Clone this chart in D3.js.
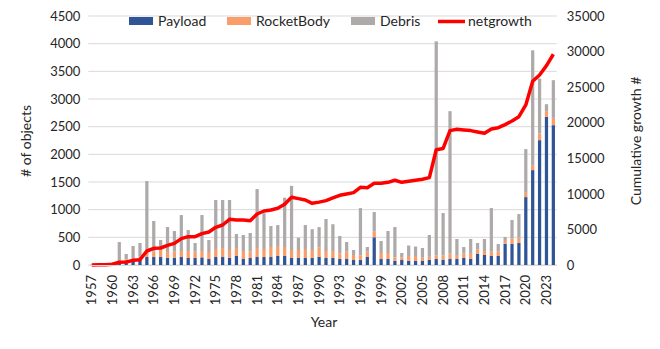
<!DOCTYPE html>
<html><head><meta charset="utf-8">
<script src="https://cdn.jsdelivr.net/npm/d3@7"></script>
<style>
html,body{margin:0;padding:0;background:#fff;}
svg text{font-family:Lato,"Open Sans",sans-serif;fill:#262626;}
</style></head>
<body><svg id="c" width="660" height="349"></svg>
<script>
const years = d3.range(1957, 2025);
const payload = [2,5,10,20,30,42,66,90,144,144,144,132,132,144,126,126,138,108,144,144,132,163,108,126,144,144,144,163,163,126,126,126,126,150,126,126,108,108,90,90,144,500,108,108,72,90,78,72,72,96,108,96,108,108,132,114,205,181,163,163,385,379,397,1227,1715,2256,2677,2527];
const rocketBody = [1,3,5,10,20,60,42,60,91,97,127,121,109,109,127,115,115,127,145,163,139,144,145,121,163,145,181,180,162,145,145,163,145,170,127,127,97,133,91,85,97,102,109,109,66,48,85,91,60,51,67,79,97,72,79,103,72,72,78,84,48,97,97,78,90,121,103,132];
const debris = [0,5,20,10,365,97,235,247,1282,554,180,433,373,650,379,156,650,216,885,867,903,253,289,331,1065,646,379,379,891,1159,223,433,376,365,578,484,319,174,90,854,84,355,216,397,548,79,189,171,175,395,3868,764,2575,290,114,253,120,217,788,132,73,337,427,789,2075,993,126,681];
const netgrowth = [0,20,50,100,380,420,656,750,1968,2343,2390,2765,3046,3703,3984,3984,4406,4640,5300,5624,6420,6327,6327,6233,7171,7593,7733,7968,8530,9514,9327,9139,8670,8835,9045,9420,9795,9983,10170,10920,10873,11483,11483,11623,11905,11623,11764,11905,12045,12280,16200,16380,18890,19080,18980,18890,18700,18515,19120,19305,19730,20245,20850,22500,25830,26715,28020,29620];
const seriesNames = ["Payload","RocketBody","Debris"];
const colors = {Payload:"#2f5597", RocketBody:"#f99d6b", Debris:"#aeaaaa"};
const leftTicks = d3.range(0, 4501, 500);
const rightTicks = d3.range(0, 35001, 5000);
const xTickYears = years.filter(y => (y - 1957) % 3 === 0);

const svg = d3.select("#c");
const L = 88.3, R = 556.8, T = 16, B = 265;
const x = d3.scaleBand().domain(years).range([L, R]).paddingInner(0.53).paddingOuter(0.265);
const y = d3.scaleLinear().domain([0, 4500]).range([B, T]);
const y2 = d3.scaleLinear().domain([0, 35000]).range([B, T]);

// gridlines
svg.append("g").selectAll("line").data(leftTicks).join("line")
  .attr("x1", L).attr("x2", R).attr("y1", d => y(d)).attr("y2", d => y(d))
  .attr("stroke", "#d9d9d9").attr("stroke-width", 1);

// stacked bars
const table = years.map((yr, i) => ({year: yr, Payload: payload[i], RocketBody: rocketBody[i], Debris: debris[i]}));
const stack = d3.stack().keys(seriesNames)(table);
svg.append("g").selectAll("g").data(stack).join("g")
  .attr("fill", d => colors[d.key])
  .selectAll("rect").data(d => d).join("rect")
  .attr("x", d => x(d.data.year)).attr("width", x.bandwidth())
  .attr("y", d => y(d[1])).attr("height", d => Math.max(0, y(d[0]) - y(d[1])));

// line
const line = d3.line().x((d, i) => x(years[i]) + x.bandwidth() / 2).y(d => y2(d));
svg.append("path").datum(netgrowth).attr("d", line)
  .attr("fill", "none").attr("stroke", "#ff0000").attr("stroke-width", 3.5).attr("stroke-linejoin", "round");

// axes
const fmt = d3.format("d");
const axL = svg.append("g").attr("transform", `translate(${L},0)`)
  .call(d3.axisLeft(y).tickValues(leftTicks).tickFormat(fmt).tickSize(0).tickPadding(8));
axL.select(".domain").remove();
axL.selectAll("text").attr("font-size", 13).style("font-family", "Lato");

const axR = svg.append("g").attr("transform", `translate(${R},0)`)
  .call(d3.axisRight(y2).tickValues(rightTicks).tickFormat(fmt).tickSize(0).tickPadding(10));
axR.select(".domain").remove();
axR.selectAll("text").attr("font-size", 13).style("font-family", "Lato");

const axB = svg.append("g").attr("transform", `translate(0,${B})`)
  .call(d3.axisBottom(x).tickValues(xTickYears).tickFormat(fmt).tickSize(0).tickPadding(0));
axB.select(".domain").attr("stroke", "#d9d9d9");
axB.selectAll("text").attr("font-size", 13).style("font-family", "Lato")
  .attr("transform", "rotate(-90)").attr("text-anchor", "end")
  .attr("x", -10).attr("y", 0).attr("dy", "0.35em");

// axis titles
svg.append("text").attr("x", 324).attr("y", 327).attr("text-anchor", "middle").attr("font-size", 14).text("Year");
svg.append("text").attr("transform", "translate(31,141) rotate(-90)").attr("text-anchor", "middle").attr("font-size", 14).text("# of objects");
svg.append("text").attr("transform", "translate(641,141) rotate(-90)").attr("text-anchor", "middle").attr("font-size", 14).text("Cumulative growth #");

// legend
const leg = svg.append("g");
const legItems = [
  {name: "Payload", x: 129, type: "rect"},
  {name: "RocketBody", x: 227, type: "rect"},
  {name: "Debris", x: 351, type: "rect"},
  {name: "netgrowth", x: 438, type: "line"}
];
legItems.forEach(it => {
  if (it.type === "rect") {
    leg.append("rect").attr("x", it.x).attr("y", 17).attr("width", 24).attr("height", 8).attr("fill", colors[it.name]);
  } else {
    leg.append("line").attr("x1", it.x).attr("x2", it.x + 27).attr("y1", 21.5).attr("y2", 21.5).attr("stroke", "#ff0000").attr("stroke-width", 3.5);
  }
  leg.append("text").attr("x", it.x + (it.type === "rect" ? 29 : 30)).attr("y", 21).attr("dy", "0.35em").attr("font-size", 14).text(it.name);
});
</script></body></html>
